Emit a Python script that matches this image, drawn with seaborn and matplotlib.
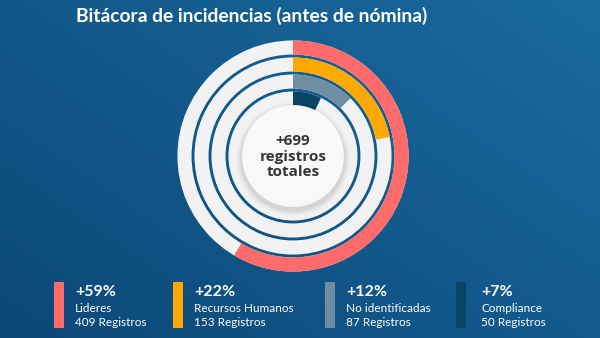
import numpy as np
import pandas as pd
import matplotlib
matplotlib.use("Agg")
import matplotlib.pyplot as plt
import seaborn as sns
from matplotlib.patches import Circle, Rectangle
from matplotlib.colors import to_rgb

# ---------------- data ----------------
title = "Bitácora de incidencias (antes de nómina)"
categories = ["Lideres", "Recursos Humanos", "No identificadas", "Compliance"]
counts = [409, 153, 87, 50]
pct_labels = ["+59%", "+22%", "+12%", "+7%"]
count_labels = ["409 Registros", "153 Registros", "87 Registros", "50 Registros"]
total_label = "+699\nregistros\ntotales"
colors = ["#ff6b6b", "#ffa800", "#6f8ea3", "#0a4466"]

sns.set_theme(style="white")
plt.rcParams['font.family'] = ['Lato', 'DejaVu Sans']

W, H = 600, 338
fig = plt.figure(figsize=(6, 3.38), dpi=100)

# ---------------- background gradient ----------------
bg = fig.add_axes([0, 0, 1, 1])
yy, xx = np.mgrid[0:1:170j, 0:1:300j]
v = 0.55 * xx + 0.45 * (1 - yy)
dark = np.array(to_rgb("#0b4877"))
light = np.array(to_rgb("#1a6aa0"))
img = dark[None, None, :] * (1 - v[..., None]) + light[None, None, :] * v[..., None]
bg.imshow(img, extent=[0, W, H, 0], aspect="auto", interpolation="bilinear")
bg.set_xlim(0, W); bg.set_ylim(H, 0)
bg.axis("off")

# ---------------- radial bars ----------------
df = pd.DataFrame({"cat": categories, "count": counts})
df["theta"] = df["count"] / df["count"].sum() * 2 * np.pi
df["full"] = 2 * np.pi
order = categories[::-1]

cx, cy, R = 293, 156, 117
pax = fig.add_axes([(cx - R) / W, (H - cy - R) / H, 2 * R / W, 2 * R / H],
                   projection="polar")
pax.set_facecolor("none")
sns.barplot(data=df, x="full", y="cat", order=order, orient="h",
            color="#f2f2f2", saturation=1, width=0.83, linewidth=0,
            ax=pax, errorbar=None)
sns.barplot(data=df, x="theta", y="cat", order=order, hue="cat",
            hue_order=order, palette=colors[::-1], saturation=1, orient="h",
            width=0.83, linewidth=0, ax=pax, errorbar=None, legend=False)
pax.set_theta_zero_location("N")
pax.set_theta_direction(-1)
pax.set_thetalim(0, 2 * np.pi)
pax.set_ylim(-3.382, 3.5)
pax.set_axis_off()

# ---------------- overlay: centre, title, legend ----------------
ov = fig.add_axes([0, 0, 1, 1])
ov.set_xlim(0, W); ov.set_ylim(H, 0)
ov.axis("off")
ov.set_facecolor("none")

for s, a in [(6, 0.025), (4, 0.04), (2, 0.06)]:
    ov.add_patch(Circle((cx, cy + 3), 51 + s, facecolor="black", alpha=a, lw=0))
ov.add_patch(Circle((cx, cy), 51, facecolor="#f8f8f8", lw=0))
ov.text(cx, cy + 0.5, total_label, ha="center", va="center", fontsize=11,
        fontweight="bold", color="#363636", linespacing=1.1,
        family=["Open Sans", "DejaVu Sans"])

ov.text(76, 22, title, ha="left", va="baseline", fontsize=13.9,
        fontweight="bold", color="white")

bar_x = [54, 173, 325, 456]
text_x = [75, 194, 346, 481]
for i in range(len(categories)):
    ov.add_patch(Rectangle((bar_x[i], 282), 10, 46, facecolor=colors[i], lw=0))
    ov.text(text_x[i], 292.5, pct_labels[i], ha="left", va="center",
            fontsize=11.5, fontweight="bold", color="white")
    ov.text(text_x[i], 308.5, categories[i], ha="left", va="center",
            fontsize=8.5, color="white")
    ov.text(text_x[i], 322.5, count_labels[i], ha="left", va="center",
            fontsize=8.5, color="white")

fig.savefig("out.png", dpi=100)
